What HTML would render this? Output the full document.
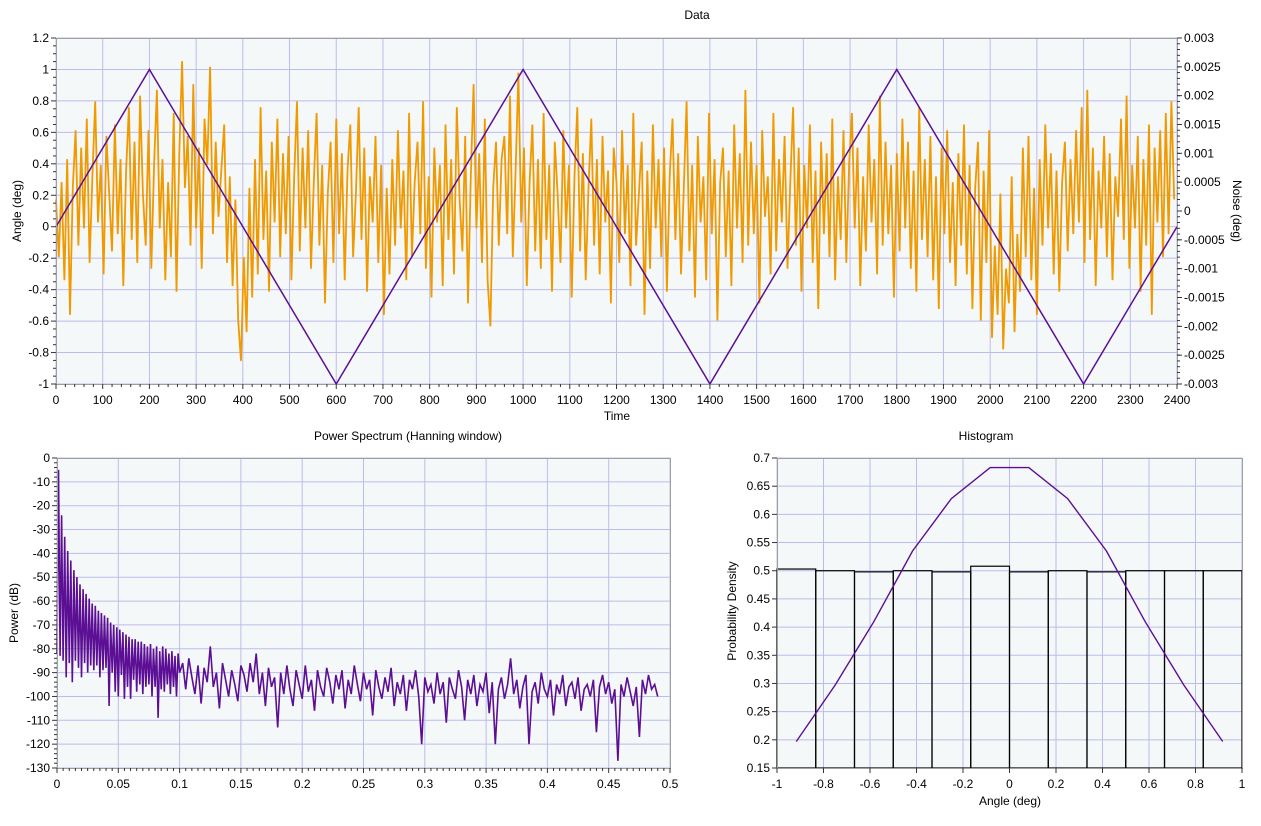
<!DOCTYPE html>
<html><head><meta charset="utf-8"><style>
body{margin:0;background:#fff;width:1261px;height:821px;overflow:hidden;font-family:"Liberation Sans",sans-serif}
svg text{font-family:"Liberation Sans",sans-serif;font-size:12px;fill:#000}
</style></head><body>
<svg id="s" width="1261" height="821"></svg>
<script>
// ---- Data chart ----
const triTime=[0,200,600,1000,1400,1800,2200,2400];
const triAngle=[0,1,-1,1,-1,1,-1,0];
const noiseStep=6;
const noise1e4=[2,-8,5,-12,9,-18,4,14,-6,11,-3,16,-9,6,19,-2,8,-11,13,3,
-7,15,-4,9,-13,7,18,-5,12,-9,20,3,-6,14,-10,8,21,-3,9,-12,
5,-8,17,-14,10,26,4,13,-6,22,-3,11,-10,16,8,25,-4,12,-1,7,
15,-9,6,-13,2,-19,-26,-8,-21,4,-15,9,-11,18,-5,7,-14,12,-2,16,
-8,10,-4,13,-12,6,19,-7,11,-3,14,-10,5,17,-6,8,-16,3,12,-9,
16,-4,10,-12,7,15,-8,3,18,-5,11,-14,6,-2,13,-9,8,-18,4,-11,
9,-6,14,-3,7,-12,17,-8,5,12,-4,19,-10,6,-15,11,-2,8,-13,15,
-5,9,-11,18,2,-7,13,-16,6,22,-3,10,-9,16,-12,-20,4,12,-6,9,
13,-4,20,-8,7,24,-2,11,-13,5,15,-7,9,-10,17,-5,8,-14,12,3,
-9,14,-3,8,-15,6,18,-7,10,-12,4,16,-6,9,-11,13,-2,7,-16,11,
5,-9,14,-4,8,-13,17,-6,3,12,-18,7,-10,15,-3,9,-8,11,-14,6,
16,-5,10,-11,4,19,-7,8,-15,13,-2,6,-12,17,-4,9,-19,5,11,-8,
7,-13,15,-3,10,-9,21,-6,12,-4,8,-16,14,-1,6,-11,17,-7,9,-2,
13,-10,5,18,-6,11,-14,8,-3,15,-9,7,-17,12,-4,10,-8,16,-12,6,
-5,14,-9,8,17,-3,11,-13,6,-7,15,-2,9,-11,20,-6,12,-4,8,-15,
10,-7,16,-3,12,-10,7,-14,18,-5,9,-8,13,-12,6,-17,11,-4,14,-9,
5,-13,10,-6,15,-11,8,-17,4,12,-19,7,-9,14,-22,-6,-18,3,-24,-10,
-16,6,-21,-4,-14,11,-8,13,-12,4,-18,9,-6,15,-3,10,-11,7,-14,5,
12,-7,9,-4,14,-2,18,-9,21,-5,11,-13,7,-3,13,-8,10,-12,6,-1,
16,-5,20,-10,8,-3,13,-14,9,-6,15,-18,11,-2,14,-8,17,-4,19,2];
const timeTicks=[0,100,200,300,400,500,600,700,800,900,1000,1100,1200,1300,1400,1500,1600,1700,1800,1900,2000,2100,2200,2300,2400];
const angleTicks=[1.2,1,0.8,0.6,0.4,0.2,0,-0.2,-0.4,-0.6,-0.8,-1];
const noiseTicks=["0.003","0.0025","0.002","0.0015","0.001","0.0005","0","-0.0005","-0.001","-0.0015","-0.002","-0.0025","-0.003"];
// ---- Power spectrum ----
const lowStep=0.00125;
const powerLow=[-82,-5,-83,-24,-85,-33,-92,-39,-86,-43,-94,-47,-85,-50,-88,-53,-92,-55,-86,-57,-90,-59,-87,-61,-89,-62,-87,-64,-92,-65,-89,-66,-88,-67,-104,-69,-90,-70,-98,-71,-100,-72,-91,-73,-101,-74,-96,-75,-101,-76,-93,-76,-98,-77,-95,-77,-99,-78,-96,-79,-95,-78,-100,-80,-96,-79,-109,-81,-97,-79,-98,-80,-95,-82,-99,-81,-96,-83,-100,-82,-90];
const highStart=0.1025, highStep=0.0025;
const powerHigh=[-86,-97,-84,-92,-99,-87,-103,-88,-94,-79,-96,-90,-105,-86,-93,-100,-89,-95,-102,-87,-91,-98,-86,-94,-82,-99,-90,-104,-88,-96,-92,-113,-90,-99,-87,-97,-104,-89,-95,-101,-87,-98,-93,-106,-89,-96,-100,-88,-94,-103,-91,-97,-89,-105,-93,-99,-87,-95,-102,-90,-97,-93,-108,-89,-96,-101,-92,-98,-88,-104,-94,-99,-91,-106,-93,-97,-89,-100,-120,-92,-98,-95,-103,-90,-99,-94,-111,-92,-97,-101,-89,-96,-110,-93,-99,-91,-104,-95,-98,-90,-107,-94,-120,-97,-92,-101,-95,-84,-99,-93,-105,-96,-91,-120,-98,-94,-103,-90,-97,-100,-93,-108,-95,-99,-91,-104,-96,-94,-101,-92,-106,-97,-95,-100,-93,-115,-96,-91,-99,-94,-103,-97,-127,-95,-100,-92,-98,-104,-96,-117,-93,-99,-91,-97,-95,-100];
const freqTicks=[0,0.05,0.1,0.15,0.2,0.25,0.3,0.35,0.4,0.45,0.5];
const powerTicks=[0,-10,-20,-30,-40,-50,-60,-70,-80,-90,-100,-110,-120,-130];
// ---- Histogram ----
const binEdges=[-1,-0.8333,-0.6667,-0.5,-0.3333,-0.1667,0,0.1667,0.3333,0.5,0.6667,0.8333,1];
const binDensity=[0.503,0.5,0.498,0.5,0.498,0.508,0.498,0.5,0.498,0.5,0.5,0.5];
const pdfX=[-0.917,-0.75,-0.583,-0.417,-0.25,-0.083,0.083,0.25,0.417,0.583,0.75,0.917];
const pdfY=[0.197,0.297,0.41,0.535,0.628,0.683,0.683,0.628,0.535,0.41,0.297,0.197];
const histXTicks=[-1,-0.8,-0.6,-0.4,-0.2,0,0.2,0.4,0.6,0.8,1];
const histYTicks=[0.7,0.65,0.6,0.55,0.5,0.45,0.4,0.35,0.3,0.25,0.2,0.15];

const S=document.getElementById('s');
const NS='http://www.w3.org/2000/svg';
function mk(tag,at,txt,name){const e=document.createElementNS(NS,tag);for(const k in at)e.setAttribute(k,at[k]);if(txt!==undefined)e.textContent=txt;


S.appendChild(e);return e;}
const GRID='#bcbcec', BG='#f5f8f9', PUR='#5c0f94', ORG='#f09a00';
function lin(d0,d1,p0,p1){return v=>p0+(v-d0)*(p1-p0)/(d1-d0);}
function frame(L,T,R,B,name){mk('rect',{x:L,y:T,width:R-L,height:B-T,fill:BG},undefined,name+'-plot-area');}
function border(L,T,R,B,name){mk('rect',{x:L+.5,y:T+.5,width:R-L,height:B-T,fill:'none',stroke:'#a0a0a0'},undefined,name+'-border');}
function label(x,y,t,anchor,name,rot){const a={x:x,y:y,'text-anchor':anchor||'middle'};if(rot)a.transform=`rotate(${rot} ${x} ${y})`;return mk('text',a,t,name);}

// ===== Top chart =====
{const L=56,T=38,R=1177,B=384;
const X=lin(0,2400,L,R),Y=lin(-1,1.2,B,T),YN=lin(-0.003,0.003,B,T);
frame(L,T,R,B,'data-chart');
timeTicks.forEach(t=>mk('line',{x1:X(t),x2:X(t),y1:T,y2:B,stroke:GRID},undefined,'x-gridline'));
angleTicks.forEach(a=>mk('line',{x1:L,x2:R,y1:Y(a),y2:Y(a),stroke:GRID},undefined,'y-gridline'));
let p=noise1e4.map((v,i)=>X(i*noiseStep).toFixed(1)+','+YN(v*1e-4).toFixed(1)).join(' ');
mk('polyline',{points:p,fill:'none',stroke:ORG,'stroke-width':1.8},undefined,'noise-series');
p=triTime.map((t,i)=>X(t)+','+Y(triAngle[i])).join(' ');
mk('polyline',{points:p,fill:'none',stroke:PUR,'stroke-width':1.5},undefined,'angle-series');
border(L,T,R,B,'data-chart');
for(let t=0;t<=2400;t+=20)mk('line',{x1:X(t),x2:X(t),y1:B,y2:B+(t%100?3:5),stroke:'#333'},undefined,'x-tick');
timeTicks.forEach(t=>label(X(t),B+20,t,'middle','x-tick-label'));
for(let a=-1;a<=1.2001;a+=0.05)mk('line',{x1:L-(Math.abs(a*5-Math.round(a*5))<1e-6?5:3),x2:L,y1:Y(a),y2:Y(a),stroke:'#333'},undefined,'y-tick');
angleTicks.forEach(a=>label(L-7,Y(a)+4,String(a),'end','y-tick-label'));
noiseTicks.forEach(n=>{const y=YN(+n);mk('line',{x1:R,x2:R+5,y1:y,y2:y,stroke:'#333'},undefined,'y2-tick');label(R+7,y+4,n,'start','y2-tick-label');});
for(let n=-0.003;n<=0.003001;n+=0.0001)mk('line',{x1:R,x2:R+3,y1:YN(n),y2:YN(n),stroke:'#333'},undefined,'y2-minor-tick');
label(697,19,'Data','middle','data-chart-title');
label(617,420,'Time','middle','x-axis-title');
label(21,211,'Angle (deg)','middle','y-axis-title',-90);
label(1233,211,'Noise (deg)','middle','y2-axis-title',90);
}
// ===== Power spectrum =====
{const L=57,T=458,R=670,B=768;
const X=lin(0,0.5,L,R),Y=lin(-130,0,B,T);
frame(L,T,R,B,'power-chart');
freqTicks.forEach(t=>mk('line',{x1:X(t),x2:X(t),y1:T,y2:B,stroke:GRID},undefined,'x-gridline'));
powerTicks.forEach(a=>mk('line',{x1:L,x2:R,y1:Y(a),y2:Y(a),stroke:GRID},undefined,'y-gridline'));
const pts=powerLow.map((v,i)=>X(i*lowStep).toFixed(1)+','+Y(v).toFixed(1)).concat(powerHigh.map((v,i)=>X(highStart+i*highStep).toFixed(1)+','+Y(v).toFixed(1)));
mk('polyline',{points:pts.join(' '),fill:'none',stroke:PUR,'stroke-width':1.6},undefined,'power-series');
border(L,T,R,B,'power-chart');
for(let i=0;i<=100;i++){const f=i*0.005;mk('line',{x1:X(f),x2:X(f),y1:B,y2:B+(i%10?3:5),stroke:'#333'},undefined,'x-tick');}
freqTicks.forEach(t=>label(X(t),B+20,String(t),'middle','x-tick-label'));
for(let a=-130;a<=0;a+=2)mk('line',{x1:L-(a%10?3:5),x2:L,y1:Y(a),y2:Y(a),stroke:'#333'},undefined,'y-tick');
powerTicks.forEach(a=>label(L-7,Y(a)+4,String(a),'end','y-tick-label'));
label(408,440,'Power Spectrum (Hanning window)','middle','power-chart-title');
label(18,613,'Power (dB)','middle','y-axis-title',-90);
}
// ===== Histogram =====
{const L=777,T=458,R=1242,B=768;
const X=lin(-1,1,L,R),Y=lin(0.15,0.7,B,T);
frame(L,T,R,B,'histogram-chart');
histXTicks.forEach(t=>mk('line',{x1:X(t),x2:X(t),y1:T,y2:B,stroke:GRID},undefined,'x-gridline'));
histYTicks.forEach(a=>mk('line',{x1:L,x2:R,y1:Y(a),y2:Y(a),stroke:GRID},undefined,'y-gridline'));
binDensity.forEach((d,i)=>mk('rect',{x:X(binEdges[i]),y:Y(d),width:X(binEdges[i+1])-X(binEdges[i]),height:B-Y(d),fill:'none',stroke:'#000','stroke-width':1.2},undefined,'histogram-bar'));
mk('polyline',{points:pdfX.map((x,i)=>X(x)+','+Y(pdfY[i])).join(' '),fill:'none',stroke:PUR,'stroke-width':1.4},undefined,'pdf-curve');
border(L,T,R,B,'histogram-chart');
histXTicks.forEach(t=>{mk('line',{x1:X(t),x2:X(t),y1:B,y2:B+5,stroke:'#333'},undefined,'x-tick');label(X(t),B+20,String(t),'middle','x-tick-label');});
histYTicks.forEach(a=>{mk('line',{x1:L-5,x2:L,y1:Y(a),y2:Y(a),stroke:'#333'},undefined,'y-tick');label(L-7,Y(a)+4,String(a),'end','y-tick-label');});
label(986,440,'Histogram','middle','histogram-title');
label(1010,805,'Angle (deg)','middle','x-axis-title');
label(736,611,'Probability Density','middle','y-axis-title',-90);
}
</script>
</body></html>
